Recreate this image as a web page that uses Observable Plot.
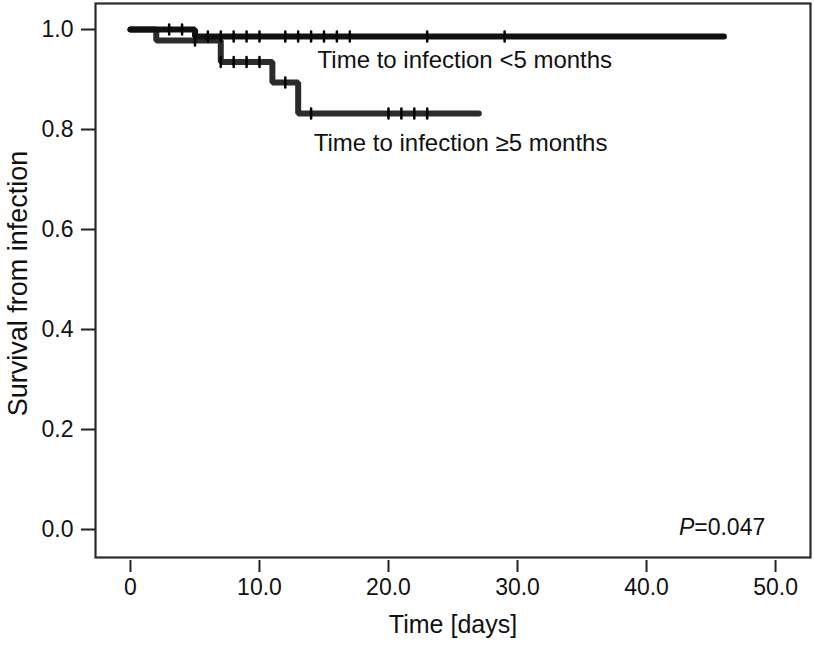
<!DOCTYPE html>
<html><head><meta charset="utf-8">
<script src="https://cdn.jsdelivr.net/npm/d3@7"></script>
<script src="https://cdn.jsdelivr.net/npm/@observablehq/plot@0.6"></script>
<style>
body{margin:0;background:#fff;}
svg{font-family:"Liberation Sans",Arial,Helvetica,sans-serif;}
</style>
</head><body><div id="chart"></div>
<script>
// Kaplan–Meier steps, time to infection < 5 months
const lt5Time = [0, 5, 46];
const lt5Surv = [1.0, 0.986, 0.986];
const lt5Censor = [3, 4, 6, 7, 8, 9, 10, 12, 13, 14, 15, 16, 17, 23, 29];
// Kaplan–Meier steps, time to infection >= 5 months
const ge5Time = [0, 2, 7, 11, 13, 27];
const ge5Surv = [1.0, 0.978, 0.935, 0.894, 0.832, 0.832];
const ge5Censor = [5, 7, 8, 9, 10, 12, 14, 20, 21, 22, 23];

const groupNames = ["Time to infection <5 months", "Time to infection \u22655 months"];
const groupLabelX = [14.5, 14.2];
const groupLabelY = [0.938, 0.772];

const xTicks = [0, 10, 20, 30, 40, 50];
const yTicks = [0, 0.2, 0.4, 0.6, 0.8, 1.0];
const xTitle = "Time [days]";
const yTitle = "Survival from infection";
const pText = ["P", "=0.047"];
const pX = 43.7, pY = 0.004;

function stepAt(times, survs, t) {
  let v = survs[0];
  for (let i = 0; i < times.length; i++) if (times[i] <= t) v = survs[i];
  return v;
}
const lt5 = lt5Time.map((t, i) => ({t, s: lt5Surv[i]}));
const ge5 = ge5Time.map((t, i) => ({t, s: ge5Surv[i]}));
const cens = [
  ...lt5Censor.map(t => ({t, s: stepAt(lt5Time, lt5Surv, t)})),
  ...ge5Censor.map(t => ({t, s: stepAt(ge5Time, ge5Surv, t)}))
];
const labels = groupNames.map((n, i) => ({n, x: groupLabelX[i], y: groupLabelY[i]}));

const tickShape = {draw(ctx, l) { ctx.moveTo(0, 0); ctx.lineTo(0, -l); }};

const chart = Plot.plot({
  width: 814,
  height: 648,
  marginLeft: 95,
  marginRight: 4,
  marginTop: 3,
  marginBottom: 91,
  style: {fontFamily: '"Liberation Sans", Arial, sans-serif', color: "#111", background: "#fff"},
  x: {domain: [-2.71, 52.71]},
  y: {domain: [-0.056, 1.052]},
  marks: [
    Plot.frame({stroke: "#2a2a2a", strokeWidth: 2.2}),
    Plot.axisX({ticks: xTicks, tickFormat: d => d === 0 ? "0" : d3.format(".1f")(d), tickSize: 12, tickPadding: 6, dy: 3, fontSize: 23, label: null, stroke: "#222", strokeWidth: 2}),
    Plot.axisY({ticks: yTicks, tickFormat: d3.format(".1f"), tickSize: 14, tickPadding: 8, fontSize: 23, label: null, stroke: "#222", strokeWidth: 2}),
    Plot.text([xTitle], {frameAnchor: "bottom", dy: 75, fontSize: 25, fill: "#111"}),
    Plot.text([yTitle], {frameAnchor: "left", textAnchor: "middle", dx: -77, dy: 3, rotate: -90, fontSize: 27, fill: "#111"}),
    Plot.line(ge5, {x: "t", y: "s", curve: "step-after", stroke: "#2b2b2b", strokeWidth: 6, strokeLinejoin: "miter", strokeLinecap: "round"}),
    Plot.line(lt5, {x: "t", y: "s", curve: "step-after", stroke: "#111", strokeWidth: 6, strokeLinejoin: "miter", strokeLinecap: "round"}),
    Plot.vector(cens, {x: "t", y: "s", length: 10, anchor: "middle", shape: tickShape, stroke: "#000", strokeWidth: 2.5}),
    Plot.text(labels, {x: "x", y: "y", text: "n", textAnchor: "start", fontSize: 24, fill: "#111"}),
    Plot.text([pText[0]], {x: () => pX, y: () => pY, textAnchor: "end", fontSize: 23, fontStyle: "italic", fill: "#111"}),
    Plot.text([pText[1]], {x: () => pX, y: () => pY, textAnchor: "start", fontSize: 23, fill: "#111"})
  ]
});
document.getElementById("chart").append(chart);
</script>
</body></html>
